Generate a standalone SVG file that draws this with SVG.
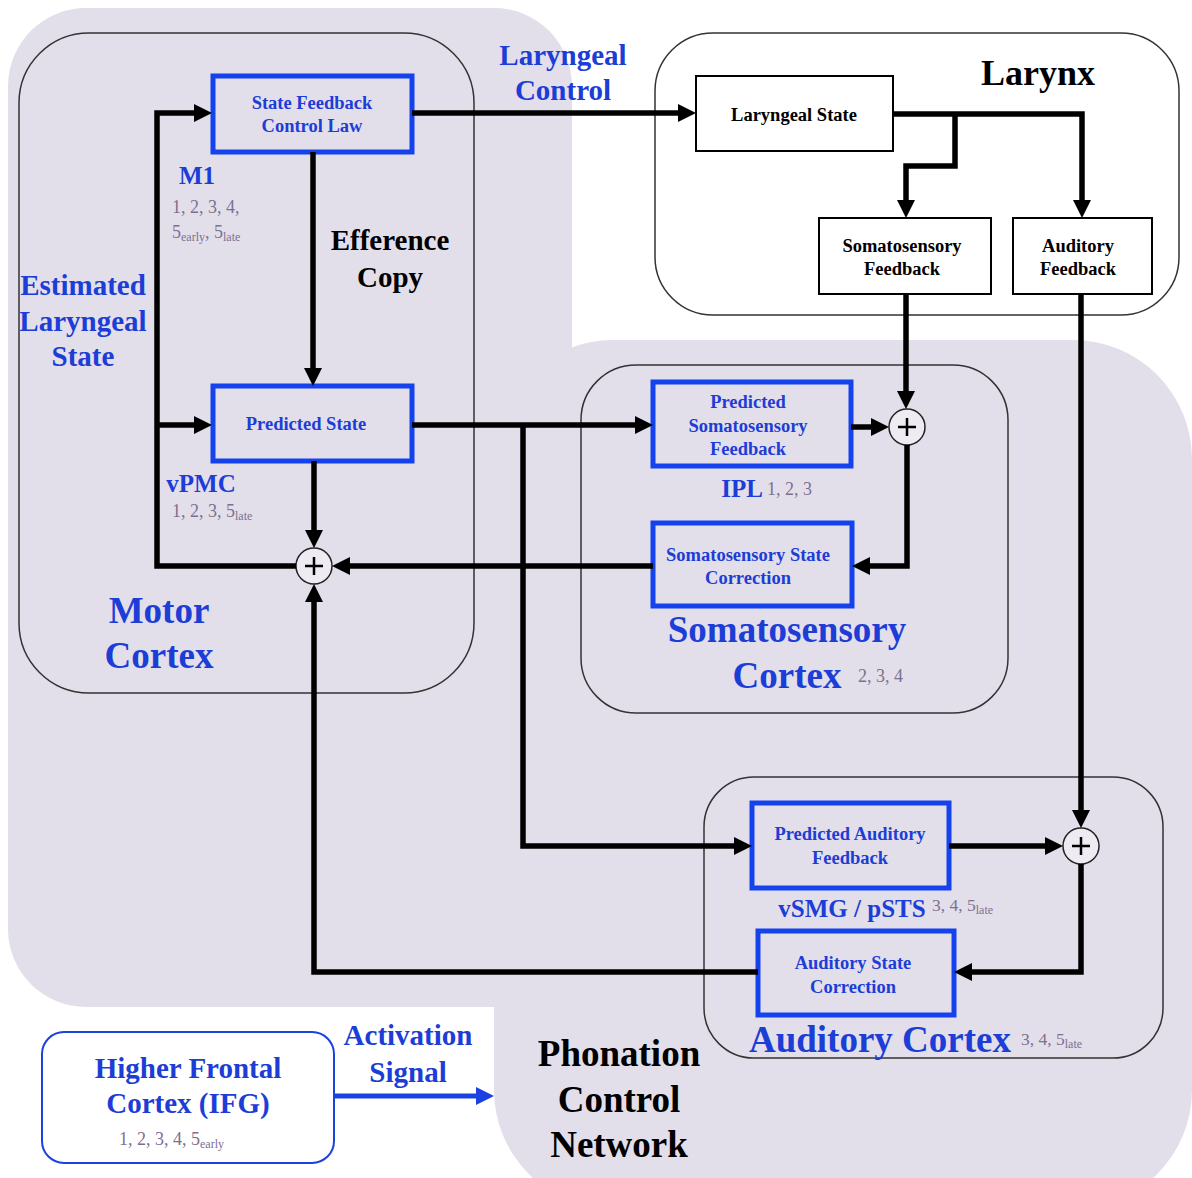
<svg xmlns="http://www.w3.org/2000/svg" width="1192" height="1178" viewBox="0 0 1192 1178">
<defs>
<marker id="a" viewBox="0 0 18 18" markerWidth="18" markerHeight="18" refX="12" refY="9" orient="auto" markerUnits="userSpaceOnUse"><path d="M0,0 L18,9 L0,18 z" fill="#000"/></marker>
<marker id="ab" viewBox="0 0 18 18" markerWidth="18" markerHeight="18" refX="12" refY="9" orient="auto" markerUnits="userSpaceOnUse"><path d="M0,0 L18,9 L0,18 z" fill="#1a42e0"/></marker>
</defs>
<style>
text{font-family:"Liberation Serif","Times New Roman",serif;font-weight:bold;text-anchor:middle}
.bt{fill:#1c3dd6}
.bk{fill:#000}
.box{fill:none;stroke:#1443ee;stroke-width:5}
.kbox{fill:#fff;stroke:#000;stroke-width:2}
.cont{fill:none;stroke:#333;stroke-width:1.5}
.s{font-size:18.5px}
.g{font-weight:normal;fill:#7d7090;text-anchor:start}
.c{fill:none;stroke:#000;stroke-width:5.5;marker-end:url(#a)}
.sum{fill:#eeebf3;stroke:#222;stroke-width:1.5}
.pl{stroke:#000;stroke-width:2.5}
</style>
<rect width="1192" height="1178" fill="#fff"/>
<g id="background">
<rect x="8" y="8" width="564" height="999" rx="78" fill="#e3dfea"/>
<rect x="494" y="340" width="698" height="869" rx="119" fill="#e3dfea"/>
</g>
<g id="motor-cortex">
<rect class="cont" x="19" y="33" width="455" height="660" rx="70"/>
<text class="bt" x="159" y="623" font-size="37">Motor</text>
<text class="bt" x="159" y="668" font-size="37">Cortex</text>
</g>
<g id="larynx">
<rect x="655" y="33" width="524" height="282" rx="58" fill="#fff" stroke="#333" stroke-width="1.5"/>
<text class="bk" x="1038" y="85" font-size="36">Larynx</text>
</g>
<g id="somatosensory-cortex">
<rect class="cont" x="581" y="365" width="427" height="348" rx="55"/>
<text class="bt" x="787" y="642" font-size="37">Somatosensory</text>
<text class="bt" x="787" y="688" font-size="37">Cortex</text>
<text class="g" x="858" y="682" font-size="18">2, 3, 4</text>
</g>
<g id="auditory-cortex">
<rect class="cont" x="704" y="777" width="459" height="281" rx="50"/>
<text class="bt" x="880" y="1052" font-size="37">Auditory Cortex</text>
<text class="g" x="1021" y="1045" font-size="17.5">3, 4, 5<tspan font-size="12" dy="3">late</tspan></text>
</g>
<g id="state-feedback-control-law">
<rect class="box" x="213" y="76" width="199" height="76"/>
<text class="bt s" x="312" y="109">State Feedback</text>
<text class="bt s" x="312" y="132">Control Law</text>
</g>
<g id="predicted-state">
<rect class="box" x="213" y="386" width="199" height="75"/>
<text class="bt s" x="306" y="430">Predicted State</text>
</g>
<g id="laryngeal-state">
<rect class="kbox" x="696" y="76" width="197" height="75"/>
<text class="bk s" x="794" y="121">Laryngeal State</text>
</g>
<g id="somatosensory-feedback">
<rect class="kbox" x="819" y="218" width="172" height="76"/>
<text class="bk s" x="902" y="252">Somatosensory</text>
<text class="bk s" x="902" y="275">Feedback</text>
</g>
<g id="auditory-feedback">
<rect class="kbox" x="1013" y="218" width="139" height="76"/>
<text class="bk s" x="1078" y="252">Auditory</text>
<text class="bk s" x="1078" y="275">Feedback</text>
</g>
<g id="predicted-somatosensory-feedback">
<rect class="box" x="653" y="382" width="198" height="84"/>
<text class="bt s" x="748" y="408">Predicted</text>
<text class="bt s" x="748" y="432">Somatosensory</text>
<text class="bt s" x="748" y="455">Feedback</text>
</g>
<g id="somatosensory-state-correction">
<rect class="box" x="653" y="523" width="199" height="83"/>
<text class="bt s" x="748" y="561">Somatosensory State</text>
<text class="bt s" x="748" y="584">Correction</text>
</g>
<g id="predicted-auditory-feedback">
<rect class="box" x="752" y="803" width="197" height="85"/>
<text class="bt s" x="850" y="840">Predicted Auditory</text>
<text class="bt s" x="850" y="864">Feedback</text>
</g>
<g id="auditory-state-correction">
<rect class="box" x="758" y="931" width="196" height="84"/>
<text class="bt s" x="853" y="969">Auditory State</text>
<text class="bt s" x="853" y="993">Correction</text>
</g>
<g id="higher-frontal-cortex">
<rect x="42" y="1032" width="292" height="131" rx="22" fill="#fff" stroke="#1a42e0" stroke-width="2"/>
<text class="bt" x="188" y="1078" font-size="29">Higher Frontal</text>
<text class="bt" x="188" y="1113" font-size="29">Cortex (IFG)</text>
<text class="g" x="119" y="1145" font-size="18">1, 2, 3, 4, 5<tspan font-size="12" dy="3">early</tspan></text>
</g>
<g id="labels">
<text class="bt" x="563" y="65" font-size="29">Laryngeal</text>
<text class="bt" x="563" y="100" font-size="29">Control</text>
<text class="bt" x="197" y="184" font-size="25">M1</text>
<text class="g" x="172" y="213" font-size="18">1, 2, 3, 4,</text>
<text class="g" x="172" y="238" font-size="18">5<tspan font-size="12" dy="3">early</tspan><tspan dy="-3">, 5</tspan><tspan font-size="12" dy="3">late</tspan></text>
<text class="bk" x="390" y="250" font-size="29">Efference</text>
<text class="bk" x="390" y="287" font-size="29">Copy</text>
<text class="bt" x="83" y="295" font-size="29">Estimated</text>
<text class="bt" x="83" y="331" font-size="29">Laryngeal</text>
<text class="bt" x="83" y="366" font-size="29">State</text>
<text class="bt" x="201" y="492" font-size="25">vPMC</text>
<text class="g" x="172" y="517" font-size="18">1, 2, 3, 5<tspan font-size="12" dy="3">late</tspan></text>
<text class="bt" x="742" y="497" font-size="25">IPL</text>
<text class="g" x="767" y="495" font-size="18">1, 2, 3</text>
<text class="bt" x="852" y="917" font-size="25">vSMG / pSTS</text>
<text class="g" x="932" y="911" font-size="17.5">3, 4, 5<tspan font-size="12" dy="3">late</tspan></text>
<text class="bt" x="408" y="1045" font-size="29">Activation</text>
<text class="bt" x="408" y="1082" font-size="29">Signal</text>
<text class="bk" x="619" y="1066" font-size="37">Phonation</text>
<text class="bk" x="619" y="1112" font-size="37">Control</text>
<text class="bk" x="619" y="1157" font-size="37">Network</text>
</g>
<g id="junctions">
<g id="sum-motor"><circle class="sum" cx="314" cy="566" r="18"/><path class="pl" d="M305,566 H323 M314,557 V575"/></g>
<g id="sum-somato"><circle class="sum" cx="907" cy="427" r="18"/><path class="pl" d="M898,427 H916 M907,418 V436"/></g>
<g id="sum-auditory"><circle class="sum" cx="1081" cy="846" r="18"/><path class="pl" d="M1072,846 H1090 M1081,837 V855"/></g>
</g>
<g id="connectors">
<path class="c" d="M296,566 H157 V113 H206"/>
<path class="c" d="M157,425 H206"/>
<path class="c" d="M412,113 H690"/>
<path class="c" d="M313,152 V380"/>
<path class="c" d="M314,461 V542"/>
<path class="c" d="M653,566 H338"/>
<path class="c" d="M758,972 H314 V590"/>
<path class="c" d="M412,425 H647"/>
<path class="c" d="M523,425 V846 H746"/>
<path class="c" d="M893,114 H1082 V212"/>
<path class="c" d="M955,114 V166 H906 V212"/>
<path class="c" d="M906,294 V403"/>
<path class="c" d="M851,427 H883"/>
<path class="c" d="M907,445 V566 H858"/>
<path class="c" d="M1081,294 V822"/>
<path class="c" d="M949,846 H1057"/>
<path class="c" d="M1081,864 V972 H960"/>
<path d="M334,1096 H488" fill="none" stroke="#1a42e0" stroke-width="5" marker-end="url(#ab)"/>
</g>
</svg>
